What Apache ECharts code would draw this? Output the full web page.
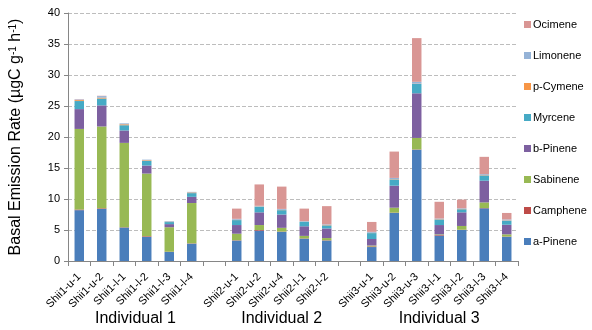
<!DOCTYPE html>
<html>
<head>
<meta charset="utf-8">
<script src="https://cdn.jsdelivr.net/npm/echarts@6/dist/echarts.min.js"></script>
<style>
  html, body { margin: 0; padding: 0; background: #fff; }
  #chart { width: 592px; height: 330px; }
</style>
</head>
<body>
<div id="chart"></div>
<script>
// Sample names; empty strings are spacer slots between the three individuals
const categories = [
  'Shii1-u-1', 'Shii1-u-2', 'Shii1-l-1', 'Shii1-l-2', 'Shii1-l-3', 'Shii1-l-4', '',
  'Shii2-u-1', 'Shii2-u-2', 'Shii2-u-4', 'Shii2-l-1', 'Shii2-l-2', '',
  'Shii3-u-1', 'Shii3-u-2', 'Shii3-u-3', 'Shii3-l-1', 'Shii3-l-2', 'Shii3-l-3', 'Shii3-l-4'
];

// Basal emission rates per compound (µgC g-1 h-1)
const aPinene  = [8.2, 8.4, 5.4, 3.9, 1.45, 2.8, null, 3.3, 4.9, 4.7, 3.6, 3.3, null, 2.25, 7.75, 17.95, 4.1, 5.0, 8.5, 3.9];
const camphene = [0.1, 0.1, 0.05, 0.1, 0.05, 0.05, null, 0.05, 0.1, 0.05, 0.05, 0.05, null, 0.1, 0.05, 0.05, 0.1, 0.05, 0.05, 0.05];
const sabinene = [13.0, 13.2, 13.6, 10.1, 3.95, 6.5, null, 1.05, 0.8, 0.6, 0.4, 0.35, null, 0.15, 0.8, 1.85, 0.1, 0.6, 0.9, 0.35];
const bPinene  = [3.2, 3.4, 2.0, 1.3, 0.5, 1.0, null, 1.4, 2.05, 2.15, 1.55, 1.55, null, 1.05, 3.55, 7.2, 1.5, 2.2, 3.5, 1.55];
const myrcene  = [1.3, 1.1, 0.85, 0.75, 0.33, 0.6, null, 0.8, 0.9, 0.7, 0.7, 0.5, null, 0.95, 1.0, 1.5, 0.9, 0.5, 0.85, 0.65];
const pCymene  = [0.15, 0.15, 0.15, 0.1, 0.05, 0.1, null, 0.05, 0.05, 0.05, 0.05, 0.05, null, 0.05, 0.05, 0.05, 0.05, 0.05, 0.05, 0.05];
const limonene = [0.1, 0.25, 0.15, 0.1, 0.1, 0.1, null, 0.15, 0.1, 0.15, 0.1, 0.1, null, 0.15, 0.2, 0.3, 0.1, 0.1, 0.15, 0.15];
const ocimene  = [0.05, 0.05, 0.0, 0.0, 0.0, 0.0, null, 1.65, 3.45, 3.6, 2.0, 2.95, null, 1.6, 4.25, 7.05, 2.7, 1.4, 2.8, 1.05];

const yTicks = [0, 5, 10, 15, 20, 25, 30, 35, 40];

// Group captions and the category ranges they span
const groupNames = ['Individual 1', 'Individual 2', 'Individual 3'];
const groupFirst = ['Shii1-u-1', 'Shii2-u-1', 'Shii3-u-1'];
const groupLast  = ['Shii1-l-4', 'Shii2-l-2', 'Shii3-l-4'];

const seriesDefs = [
  ['a-Pinene', aPinene, '#4A7EBB'],
  ['Camphene', camphene, '#BE4B48'],
  ['Sabinene', sabinene, '#98B954'],
  ['b-Pinene', bPinene, '#7D60A0'],
  ['Myrcene', myrcene, '#46AAC5'],
  ['p-Cymene', pCymene, '#F79646'],
  ['Limonene', limonene, '#95B3D7'],
  ['Ocimene', ocimene, '#D99694']
];

const FONT = 'Liberation Sans, Arial, sans-serif';
const chart = echarts.init(document.getElementById('chart'), null, { renderer: 'canvas' });

const option = {
  animation: false,
  textStyle: { fontFamily: FONT },
  grid: { left: 66, right: 74, top: 13, bottom: 69 },
  legend: {
    orient: 'vertical',
    left: 519,
    top: 14,
    itemWidth: 7,
    itemHeight: 7,
    itemGap: 20,
    icon: 'rect',
    data: seriesDefs.map(d => d[0]).reverse(),
    textStyle: { fontSize: 11, color: '#000', fontFamily: FONT, padding: [0, 0, 0, -3] }
  },
  xAxis: {
    type: 'category',
    data: categories,
    boundaryGap: true,
    axisLine: { lineStyle: { color: '#868686' } },
    axisTick: { show: true, interval: 0, length: 5, lineStyle: { color: '#868686' } },
    axisLabel: {
      interval: 0,
      rotate: 45,
      fontSize: 11,
      color: '#000',
      margin: 14,
      fontFamily: FONT
    }
  },
  yAxis: {
    type: 'value',
    min: yTicks[0],
    max: yTicks[yTicks.length - 1],
    interval: 5,
    name: 'Basal Emission Rate (µgC g{sup|-1} h{sup|-1})',
    nameLocation: 'middle',
    nameGap: 44,
    nameTextStyle: {
      fontSize: 16,
      color: '#000',
      fontFamily: FONT,
      rich: {
        sup: { fontSize: 10, verticalAlign: 'top', lineHeight: 10, padding: [0, 0, 8, 0], color: '#000' }
      }
    },
    axisLine: { show: true, lineStyle: { color: '#868686' } },
    axisTick: { show: true, length: 4, lineStyle: { color: '#868686' } },
    axisLabel: { fontSize: 11, color: '#000', margin: 8, fontFamily: FONT },
    splitLine: { lineStyle: { color: '#BDBDBD', type: [4, 2] } }
  },
  series: seriesDefs.map(([name, values, color]) => ({
    name,
    type: 'bar',
    stack: 'total',
    barWidth: '42%',
    data: values,
    itemStyle: { color }
  }))
};

chart.setOption(option);

// Centre each group caption beneath its run of samples
const captions = groupNames.map((text, i) => {
  const x0 = chart.convertToPixel({ xAxisIndex: 0 }, groupFirst[i]);
  const x1 = chart.convertToPixel({ xAxisIndex: 0 }, groupLast[i]);
  return {
    type: 'text',
    x: (x0 + x1) / 2,
    y: 311,
    style: {
      text,
      fontSize: 16,
      fontFamily: FONT,
      fill: '#000',
      textAlign: 'center',
      textVerticalAlign: 'top'
    }
  };
});
chart.setOption({ graphic: captions });
</script>
</body>
</html>
